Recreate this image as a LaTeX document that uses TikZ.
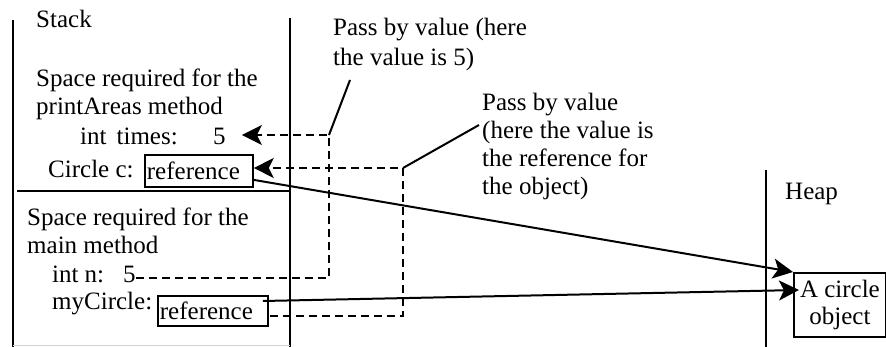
\documentclass[tikz,border=0pt]{standalone}
\usepackage{fontspec}
\setmainfont{Liberation Serif}
\usetikzlibrary{arrows.meta}
\begin{document}
\begin{tikzpicture}[x=1pt,y=-1pt,
  lbl/.style={anchor=base west, inner sep=0pt, font=\fontsize{25}{28}\selectfont, align=left},
  mlbl/.style={anchor=north west, inner sep=0pt, font=\fontsize{25}{28}\selectfont, align=left},
  ln/.style={line width=2pt},
  dsh/.style={line width=1.8pt, dash pattern=on 8pt off 5pt},
  tip/.style={-{Stealth[length=20pt,width=20pt,inset=5pt]}},
  refbox/.style={draw, line width=1.8pt, anchor=north west, inner xsep=2pt, inner ysep=0pt, align=left, font=\fontsize{25}{28}\selectfont}
]
\useasboundingbox (0,0) rectangle (886,347);

% frames
\draw[ln] (12.5,20) -- (12.5,347);
\draw[ln] (290,18) -- (290,347);
\draw[ln] (17,191) -- (290,191);
\draw[ln] (766,170) -- (766,347);
\draw[gray!35, line width=1pt] (13,345) -- (290,345);

% stack texts (multi-line nodes: top = first baseline - 19.6 via \strut)
\node[lbl] (stack) at (36,28) {Stack};
\node[mlbl] (pa) at (36,66.4) {\strut Space required for the\\printAreas method};
\node[lbl] (times) at (80,145) {int\hspace{10pt}times:};
\node[lbl] (t5) at (213,145) {5};
\node[lbl] (cc) at (48,178) {Circle c:};
\node[refbox, text width=104pt, minimum height=32pt] (refc) at (144,154) {reference};
\node[mlbl] (mm) at (27,205.4) {\strut Space required for the\\main method};
\node[lbl] (intn) at (52,283) {int\hspace{6pt}n:};
\node[lbl] (n5) at (123,283) {5};
\node[lbl] (myc) at (52,309) {myCircle:};
\node[refbox, text width=106pt, minimum height=30pt] (refm) at (157,295) {reference};

% notes
\node[mlbl, font=\fontsize{25}{30}\selectfont] (pbv1) at (333,14) {\strut Pass by value (here\\the value is 5)};
\node[mlbl] (pbv2) at (482,90.4) {\strut Pass by value\\(here the value is\\the reference for\\the object)};

% heap
\node[lbl] (heap) at (785,200) {Heap};
\node[draw, line width=1.8pt, anchor=north west, minimum width=92pt, minimum height=64pt, inner sep=0pt, align=center, font=\fontsize{25}{27}\selectfont] (obj) at (793,272) {A circle\\object};

% corner points
\coordinate (c1a) at (329,278);
\coordinate (c1b) at (329,135);
\coordinate (l1) at (350,80);
\coordinate (c2a) at (403,316);
\coordinate (c2b) at (403,168);
\coordinate (l2) at (479,125);
\coordinate (t5e) at ([xshift=16pt]t5.east);
\coordinate (rme) at ([xshift=1pt]refm.east);

% dashed pass-by-value paths
\draw[dsh, tip] (n5.east |- c1a) -- (c1a) -- (c1b) -- (t5e |- c1b);
\draw[dsh, tip] (rme |- c2a) -- (c2a) -- (c2b) -- (refc.east |- c2b);

% leaders
\draw[ln] (c1b) -- (l1);
\draw[ln] (c2b) -- (l2);

% references to object
\draw[ln, tip] ([yshift=-9pt]refc.east) -- (obj.north west);
\draw[ln, tip] ([xshift=-6pt,yshift=-6pt]refm.north east) -- ([xshift=6pt,yshift=-18pt]obj.north west);
\end{tikzpicture}
\end{document}
